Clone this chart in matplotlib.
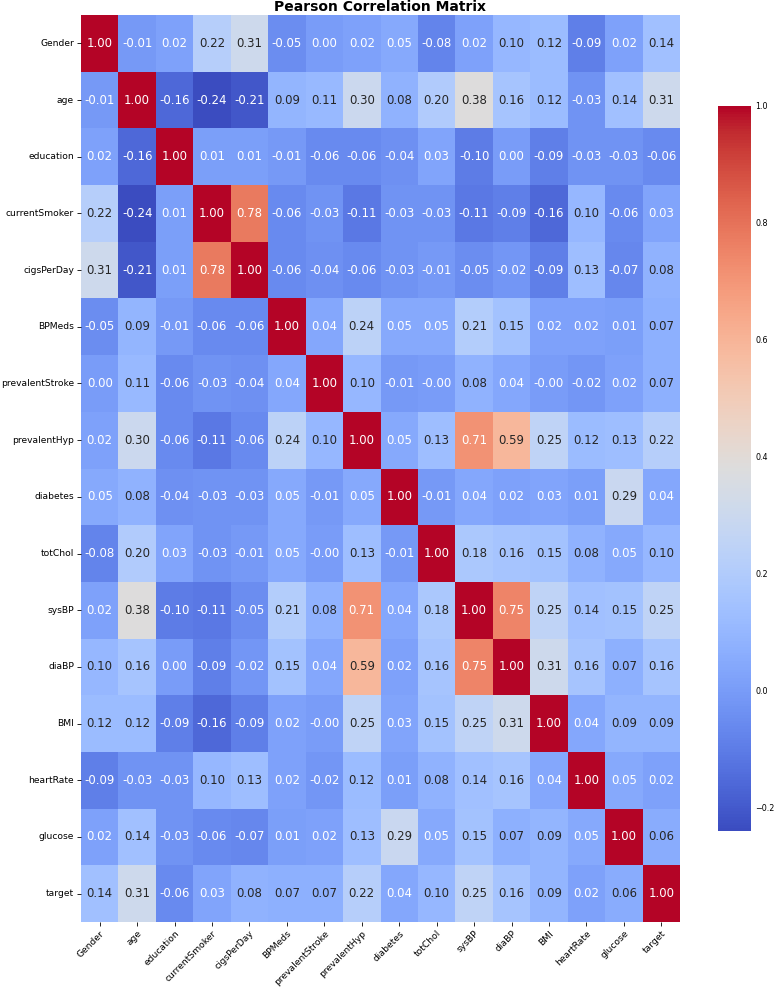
import numpy as np
import seaborn as sns
from matplotlib import pyplot as plt

labels = ["Gender", "age", "education", "currentSmoker", "cigsPerDay", "BPMeds",
          "prevalentStroke", "prevalentHyp", "diabetes", "totChol", "sysBP",
          "diaBP", "BMI", "heartRate", "glucose", "target"]

r_gender = [1.00, -0.01, 0.02, 0.22, 0.31, -0.05, 0.00, 0.02, 0.05, -0.08, 0.02, 0.10, 0.12, -0.09, 0.02, 0.14]
r_age = [-0.01, 1.00, -0.16, -0.24, -0.21, 0.09, 0.11, 0.30, 0.08, 0.20, 0.38, 0.16, 0.12, -0.03, 0.14, 0.31]
r_education = [0.02, -0.16, 1.00, 0.01, 0.01, -0.01, -0.06, -0.06, -0.04, 0.03, -0.10, 0.00, -0.09, -0.03, -0.03, -0.06]
r_smoker = [0.22, -0.24, 0.01, 1.00, 0.78, -0.06, -0.03, -0.11, -0.03, -0.03, -0.11, -0.09, -0.16, 0.10, -0.06, 0.03]
r_cigs = [0.31, -0.21, 0.01, 0.78, 1.00, -0.06, -0.04, -0.06, -0.03, -0.01, -0.05, -0.02, -0.09, 0.13, -0.07, 0.08]
r_bpmeds = [-0.05, 0.09, -0.01, -0.06, -0.06, 1.00, 0.04, 0.24, 0.05, 0.05, 0.21, 0.15, 0.02, 0.02, 0.01, 0.07]
r_stroke = [0.00, 0.11, -0.06, -0.03, -0.04, 0.04, 1.00, 0.10, -0.01, -0.00, 0.08, 0.04, -0.00, -0.02, 0.02, 0.07]
r_hyp = [0.02, 0.30, -0.06, -0.11, -0.06, 0.24, 0.10, 1.00, 0.05, 0.13, 0.71, 0.59, 0.25, 0.12, 0.13, 0.22]
r_diabetes = [0.05, 0.08, -0.04, -0.03, -0.03, 0.05, -0.01, 0.05, 1.00, -0.01, 0.04, 0.02, 0.03, 0.01, 0.29, 0.04]
r_chol = [-0.08, 0.20, 0.03, -0.03, -0.01, 0.05, -0.00, 0.13, -0.01, 1.00, 0.18, 0.16, 0.15, 0.08, 0.05, 0.10]
r_sysbp = [0.02, 0.38, -0.10, -0.11, -0.05, 0.21, 0.08, 0.71, 0.04, 0.18, 1.00, 0.75, 0.25, 0.14, 0.15, 0.25]
r_diabp = [0.10, 0.16, 0.00, -0.09, -0.02, 0.15, 0.04, 0.59, 0.02, 0.16, 0.75, 1.00, 0.31, 0.16, 0.07, 0.16]
r_bmi = [0.12, 0.12, -0.09, -0.16, -0.09, 0.02, -0.00, 0.25, 0.03, 0.15, 0.25, 0.31, 1.00, 0.04, 0.09, 0.09]
r_heart = [-0.09, -0.03, -0.03, 0.10, 0.13, 0.02, -0.02, 0.12, 0.01, 0.08, 0.14, 0.16, 0.04, 1.00, 0.05, 0.02]
r_glucose = [0.02, 0.14, -0.03, -0.06, -0.07, 0.01, 0.02, 0.13, 0.29, 0.05, 0.15, 0.07, 0.09, 0.05, 1.00, 0.06]
r_target = [0.14, 0.31, -0.06, 0.03, 0.08, 0.07, 0.07, 0.22, 0.04, 0.10, 0.25, 0.16, 0.09, 0.02, 0.06, 1.00]

corr = np.array([r_gender, r_age, r_education, r_smoker, r_cigs, r_bpmeds, r_stroke,
                 r_hyp, r_diabetes, r_chol, r_sysbp, r_diabp, r_bmi, r_heart,
                 r_glucose, r_target])

fig = plt.figure(figsize=(7.74, 9.92), dpi=100)
ax = fig.add_axes([81/774, 1 - 922/992, 599/774, 907/992])
cax = fig.add_axes([718/774, 1 - 831/992, 33/774, 725/992])

sns.heatmap(corr, annot=True, fmt=".2f", cmap="coolwarm", vmin=-0.24, vmax=1.0,
            xticklabels=labels, yticklabels=labels, ax=ax, cbar_ax=cax,
            annot_kws={"size": 8.5})
ax.set_title("Pearson Correlation Matrix", fontsize=10, fontweight="bold", pad=3)
plt.setp(ax.get_xticklabels(), rotation=45, ha="right", rotation_mode="anchor", fontsize=6.6)
plt.setp(ax.get_yticklabels(), rotation=0, fontsize=6.6)
ax.tick_params(length=3, width=0.6, pad=2)
cax.tick_params(labelsize=5.8, length=0, pad=3)
cax.set_yticks([-0.2, 0.0, 0.2, 0.4, 0.6, 0.8, 1.0])

fig.savefig("out.png", dpi=100)
